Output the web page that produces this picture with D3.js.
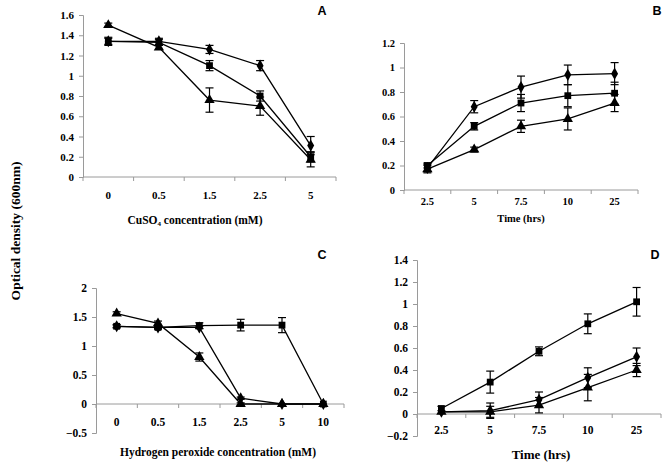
<!DOCTYPE html>
<html><head><meta charset="utf-8">
<script src="https://cdn.jsdelivr.net/npm/d3@7"></script>
<style>body{margin:0;background:#fff}svg{display:block}</style>
</head><body>
<svg id="c" width="664" height="462"></svg>
<script>
// ---- Data ----
const catsA = ["0","0.5","1.5","2.5","5"];
const aDiamond = [1.34,1.34,1.26,1.10,0.31];
const aDiamondErr = [0.03,0.03,0.04,0.05,0.09];
const aSquare = [1.34,1.33,1.10,0.80,0.20];
const aSquareErr = [0.04,0.03,0.05,0.05,0.05];
const aTriangle = [1.50,1.28,0.76,0.70,0.17];
const aTriangleErr = [0.02,0.02,0.12,0.09,0.07];
const ticksA = [0,0.2,0.4,0.6,0.8,1,1.2,1.4,1.6];

const catsB = ["2.5","5","7.5","10","25"];
const bDiamond = [0.18,0.68,0.84,0.94,0.95];
const bDiamondErr = [0.03,0.05,0.09,0.08,0.09];
const bSquare = [0.20,0.52,0.71,0.77,0.79];
const bSquareErr = [0.02,0.03,0.07,0.09,0.09];
const bTriangle = [0.17,0.33,0.52,0.58,0.71];
const bTriangleErr = [0.03,0.02,0.05,0.09,0.07];
const ticksB = [0,0.2,0.4,0.6,0.8,1,1.2];

const catsC = ["0","0.5","1.5","2.5","5","10"];
const cDiamond = [1.34,1.32,1.32,0.10,0.00,0.00];
const cDiamondErr = [0.02,0.02,0.02,0.02,0.01,0.01];
const cSquare = [1.34,1.32,1.35,1.36,1.36,0.00];
const cSquareErr = [0.03,0.03,0.05,0.10,0.13,0.01];
const cTriangle = [1.56,1.39,0.81,0.00,0.00,0.00];
const cTriangleErr = [0.03,0.04,0.07,0.02,0.01,0.01];
const ticksC = [-0.5,0,0.5,1,1.5,2];

const catsD = ["2.5","5","7.5","10","25"];
const dDiamond = [0.02,0.03,0.13,0.33,0.52];
const dDiamondErr = [0.01,0.07,0.07,0.09,0.08];
const dSquare = [0.05,0.29,0.57,0.82,1.02];
const dSquareErr = [0.02,0.10,0.04,0.09,0.13];
const dTriangle = [0.02,0.02,0.08,0.24,0.40];
const dTriangleErr = [0.01,0.05,0.07,0.12,0.06];
const ticksD = [-0.2,0,0.2,0.4,0.6,0.8,1,1.2,1.4];

const svg = d3.select("#c");
const serif = "'Liberation Serif','Times New Roman',serif";
const sans = "'Liberation Sans',Arial,sans-serif";
const axisCol = "#9a9a9a";

function panel(o){
  const g = svg.append("g");
  const x = d3.scaleBand().domain(o.cats).range(o.xr).paddingInner(0).paddingOuter(0);
  const y = d3.scaleLinear().domain(o.yd).range(o.yr);
  const y0 = y(Math.max(0,o.yd[0]));
  const fs = o.fs + "px";
  // y axis
  const ya = g.append("g").attr("transform",`translate(${o.xr[0]},0)`)
    .call(d3.axisLeft(y).tickValues(o.ticks).tickSize(4).tickFormat(d=>d3.format("")(+d.toFixed(1))));
  ya.select(".domain").attr("stroke",axisCol);
  ya.selectAll(".tick line").attr("stroke",axisCol);
  ya.selectAll(".tick text").attr("fill","#000").attr("font-family",serif).attr("font-weight","bold").attr("font-size",fs).attr("x",-9);
  // x axis line at zero
  g.append("line").attr("x1",o.xr[0]).attr("x2",o.xr[1]).attr("y1",y0).attr("y2",y0).attr("stroke",axisCol);
  const bounds = o.cats.map(c=>x(c)).concat([o.xr[1]]);
  g.selectAll(".xt").data(bounds).join("line").attr("x1",d=>d).attr("x2",d=>d).attr("y1",y0).attr("y2",y0+4).attr("stroke",axisCol);
  g.selectAll(".xl").data(o.cats).join("text").attr("x",d=>x(d)+x.bandwidth()/2).attr("y",o.labY)
    .attr("text-anchor","middle").attr("dominant-baseline","middle").attr("font-family",serif).attr("font-weight","bold").attr("font-size",fs).text(d=>d);
  const t = g.append("text").attr("x",o.titleX).attr("y",o.titleY).attr("text-anchor","middle")
    .attr("dominant-baseline","middle").attr("font-family",serif).attr("font-weight","bold").attr("font-size",o.tfs+"px");
  if(o.sub){ t.append("tspan").text("CuSO"); t.append("tspan").attr("font-size","7px").attr("dy",3).text("4"); t.append("tspan").attr("dy",-3).text(" concentration (mM)"); }
  else t.text(o.title);
  g.append("text").attr("x",o.letter[0]).attr("y",o.letter[1]).attr("text-anchor","middle").attr("dominant-baseline","middle")
    .attr("font-family",sans).attr("font-weight","bold").attr("font-size","12.5px").text(o.letterText);
  const cx = c=>x(c)+x.bandwidth()/2;
  const line = d3.line().x((d,i)=>cx(o.cats[i])).y(d=>y(d));
  o.series.forEach(s=>{
    g.append("path").attr("d",line(s.v)).attr("fill","none").attr("stroke","#000").attr("stroke-width",1.3);
  });
  o.series.forEach(s=>{
    s.v.forEach((v,i)=>{
      const e=s.e[i], px=cx(o.cats[i]);
      if(e>0.015){
        g.append("line").attr("x1",px).attr("x2",px).attr("y1",y(v-e)).attr("y2",y(v+e)).attr("stroke","#000").attr("stroke-width",1.2);
        [v-e,v+e].forEach(w=>g.append("line").attr("x1",px-4).attr("x2",px+4).attr("y1",y(w)).attr("y2",y(w)).attr("stroke","#000").attr("stroke-width",1.2));
      }
    });
    const sym = s.m==="d"? d3.symbolDiamond : s.m==="s"? d3.symbolSquare : d3.symbolTriangle;
    const size = s.m==="d"? 42 : 46;
    g.selectAll(null).data(s.v).join("path")
      .attr("transform",(d,i)=>`translate(${cx(o.cats[i])},${y(d)})`)
      .attr("d",d3.symbol().type(sym).size(size)).attr("fill","#000");
  });
}

panel({cats:catsA, xr:[83,336], yd:[0,1.6], yr:[177,15], ticks:ticksA, labY:196, titleX:195, titleY:221, sub:true, fs:11, tfs:11.5,
  letter:[322,12], letterText:"A",
  series:[{v:aDiamond,e:aDiamondErr,m:"d"},{v:aSquare,e:aSquareErr,m:"s"},{v:aTriangle,e:aTriangleErr,m:"t"}]});
panel({cats:catsB, xr:[404,638], yd:[0,1.2], yr:[190,43], ticks:ticksB, labY:203, titleX:521, titleY:220, title:"Time (hrs)", fs:10.5, tfs:10.5,
  letter:[657,12], letterText:"B",
  series:[{v:bDiamond,e:bDiamondErr,m:"d"},{v:bSquare,e:bSquareErr,m:"s"},{v:bTriangle,e:bTriangleErr,m:"t"}]});
panel({cats:catsC, xr:[96,344], yd:[-0.5,2], yr:[433,288], ticks:ticksC, labY:423, titleX:218, titleY:453, title:"Hydrogen peroxide concentration (mM)", fs:11.5, tfs:11.5,
  letter:[322,256], letterText:"C",
  series:[{v:cDiamond,e:cDiamondErr,m:"d"},{v:cSquare,e:cSquareErr,m:"s"},{v:cTriangle,e:cTriangleErr,m:"t"}]});
panel({cats:catsD, xr:[417,661], yd:[-0.2,1.4], yr:[436,260], ticks:ticksD, labY:431, titleX:541, titleY:456, title:"Time (hrs)", fs:11.5, tfs:13,
  letter:[655,256], letterText:"D",
  series:[{v:dDiamond,e:dDiamondErr,m:"d"},{v:dSquare,e:dSquareErr,m:"s"},{v:dTriangle,e:dTriangleErr,m:"t"}]});

svg.append("text").attr("transform","translate(17,231) rotate(-90)").attr("text-anchor","middle").attr("dominant-baseline","middle")
  .attr("font-family",serif).attr("font-weight","bold").attr("font-size","13.5px").text("Optical density (600nm)");
</script>
</body></html>
